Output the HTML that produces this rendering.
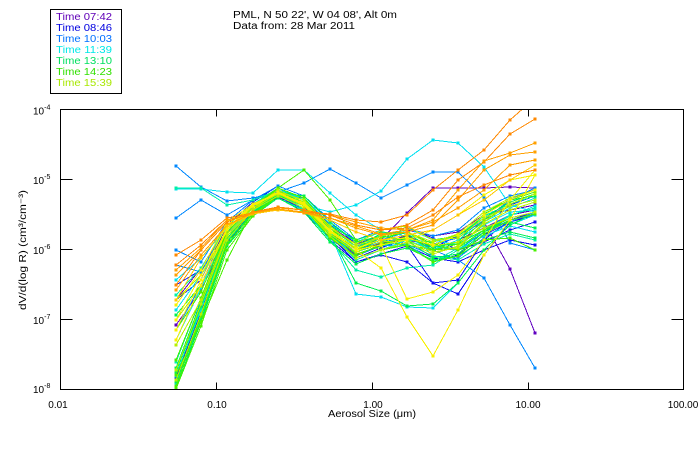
<!DOCTYPE html>
<html>
<head>
<meta charset="utf-8">
<style>
html,body{margin:0;padding:0;background:#fff;}
svg{display:block;}
text{font-family:"Liberation Sans",sans-serif;fill:#000;}
.s polyline{fill:none;stroke-width:1;}
.p{stroke:#6000c0;marker:url(#mp);}
.b{stroke:#1010f0;marker:url(#mb);}
.l{stroke:#0088ff;marker:url(#ml);}
.c{stroke:#00e0f0;marker:url(#mc);}
.a{stroke:#00f0a8;marker:url(#ma);}
.g{stroke:#00f050;marker:url(#mg);}
.m{stroke:#48f000;marker:url(#mm);}
.y{stroke:#b8f000;marker:url(#my);}
.e{stroke:#f8f000;marker:url(#me);}
.o{stroke:#ffa000;marker:url(#mo);}
.r{stroke:#ff8800;marker:url(#mr);}
.k{stroke:#ffc800;marker:url(#mk);}
</style>
</head>
<body>
<svg width="700" height="450" viewBox="0 0 700 450" xmlns="http://www.w3.org/2000/svg">
<defs>
<clipPath id="cp"><rect x="60.5" y="109.5" width="623" height="280"/></clipPath>
<marker id="mp" markerWidth="3" markerHeight="3" refX="1.5" refY="1.5" markerUnits="userSpaceOnUse"><rect width="3" height="3" fill="#6000c0"/></marker>
<marker id="mb" markerWidth="3" markerHeight="3" refX="1.5" refY="1.5" markerUnits="userSpaceOnUse"><rect width="3" height="3" fill="#1010f0"/></marker>
<marker id="ml" markerWidth="3" markerHeight="3" refX="1.5" refY="1.5" markerUnits="userSpaceOnUse"><rect width="3" height="3" fill="#0088ff"/></marker>
<marker id="mc" markerWidth="3" markerHeight="3" refX="1.5" refY="1.5" markerUnits="userSpaceOnUse"><rect width="3" height="3" fill="#00e0f0"/></marker>
<marker id="ma" markerWidth="3" markerHeight="3" refX="1.5" refY="1.5" markerUnits="userSpaceOnUse"><rect width="3" height="3" fill="#00f0a8"/></marker>
<marker id="mg" markerWidth="3" markerHeight="3" refX="1.5" refY="1.5" markerUnits="userSpaceOnUse"><rect width="3" height="3" fill="#00f050"/></marker>
<marker id="mm" markerWidth="3" markerHeight="3" refX="1.5" refY="1.5" markerUnits="userSpaceOnUse"><rect width="3" height="3" fill="#48f000"/></marker>
<marker id="my" markerWidth="3" markerHeight="3" refX="1.5" refY="1.5" markerUnits="userSpaceOnUse"><rect width="3" height="3" fill="#b8f000"/></marker>
<marker id="me" markerWidth="3" markerHeight="3" refX="1.5" refY="1.5" markerUnits="userSpaceOnUse"><rect width="3" height="3" fill="#f8f000"/></marker>
<marker id="mo" markerWidth="3" markerHeight="3" refX="1.5" refY="1.5" markerUnits="userSpaceOnUse"><rect width="3" height="3" fill="#ffa000"/></marker>
<marker id="mr" markerWidth="3" markerHeight="3" refX="1.5" refY="1.5" markerUnits="userSpaceOnUse"><rect width="3" height="3" fill="#ff8800"/></marker>
<marker id="mk" markerWidth="3" markerHeight="3" refX="1.5" refY="1.5" markerUnits="userSpaceOnUse"><rect width="3" height="3" fill="#ffc800"/></marker>
</defs>
<rect width="700" height="450" fill="#fff"/>

<!-- legend -->
<rect x="50.5" y="9.5" width="71" height="84" fill="none" stroke="#000" stroke-width="1" shape-rendering="crispEdges"/>
<g font-size="10">
<text x="56" y="20" style="fill:#6000b8" textLength="56" lengthAdjust="spacingAndGlyphs">Time 07:42</text>
<text x="56" y="31" style="fill:#0000e0" textLength="56" lengthAdjust="spacingAndGlyphs">Time 08:46</text>
<text x="56" y="42" style="fill:#0070ff" textLength="56" lengthAdjust="spacingAndGlyphs">Time 10:03</text>
<text x="56" y="53" style="fill:#00e8e8" textLength="56" lengthAdjust="spacingAndGlyphs">Time 11:39</text>
<text x="56" y="64" style="fill:#00e060" textLength="56" lengthAdjust="spacingAndGlyphs">Time 13:10</text>
<text x="56" y="75" style="fill:#30e000" textLength="56" lengthAdjust="spacingAndGlyphs">Time 14:23</text>
<text x="56" y="86" style="fill:#a8e800" textLength="56" lengthAdjust="spacingAndGlyphs">Time 15:39</text>
</g>

<!-- title -->
<text x="233" y="18" font-size="10" textLength="164" lengthAdjust="spacingAndGlyphs">PML, N 50 22', W 04 08', Alt 0m</text>
<text x="233" y="29" font-size="10" textLength="122" lengthAdjust="spacingAndGlyphs">Data from: 28 Mar 2011</text>

<!-- data -->
<g class="s" clip-path="url(#cp)" shape-rendering="crispEdges">
<polyline class="p" points="176,330 201,285 227,230 253,205 278,190 304,205 330,235 356,255 381,245 407,235 433,250 458,240 484,228 510,215 535,210"/>
<polyline class="p" points="176,300 201,268 227,228 253,205 278,193 304,205 330,232 356,250 381,240 407,213 433,188 458,188 484,188 510,187 535,188"/>
<polyline class="p" points="176,340 201,288 227,230 253,206 278,192 304,203 330,233 356,252 381,243 407,240 433,245 458,235 484,222 510,269 535,333"/>
<polyline class="p" points="176,325 201,290 227,238 253,210 278,192 304,198 330,226 356,244 381,236 407,230 433,236 458,232 484,215 510,210 535,205"/>

<polyline class="b" points="176,340 201,285 227,228 253,205 278,188 304,198 330,225 356,240 381,232 407,245 433,262 458,255 484,235 510,222 535,215"/>
<polyline class="b" points="176,378 201,312 227,240 253,212 278,195 304,205 330,235 356,258 381,250 407,245 433,283 458,294 484,255 510,222 535,215"/>
<polyline class="b" points="176,378 201,310 227,242 253,214 278,196 304,210 330,240 356,262 381,255 407,262 433,283 458,280 484,240 510,220 535,212"/>
<polyline class="b" points="176,385 201,318 227,240 253,212 278,197 304,212 330,238 356,258 381,248 407,238 433,248 458,236 484,218 510,205 535,196"/>
<polyline class="b" points="176,300 201,280 227,225 253,202 278,186 304,196 330,222 356,244 381,230 407,228 433,238 458,250 484,242 510,230 535,222"/>
<polyline class="b" points="176,285 201,270 227,236 253,212 278,195 304,206 330,236 356,262 381,254 407,246 433,258 458,262 484,250 510,240 535,245"/>

<polyline class="l" points="176,166 201,187 227,201 253,198 278,192 304,210 330,232 356,252 381,242 407,238 433,248 458,250 484,232 510,220 535,215"/>
<polyline class="l" points="176,218 201,200 227,215 253,200 278,192 304,183 330,169 356,183 381,198 407,185 433,172 458,172 484,197 510,243 535,250"/>
<polyline class="l" points="176,330 201,285 227,230 253,207 278,192 304,203 330,232 356,250 381,242 407,240 433,250 458,260 484,278 510,325 535,368"/>
<polyline class="l" points="176,265 201,272 227,226 253,204 278,190 304,200 330,226 356,246 381,240 407,232 433,244 458,238 484,220 510,200 535,188"/>
<polyline class="l" points="176,372 201,300 227,232 253,212 278,196 304,208 330,236 356,256 381,246 407,244 433,256 458,258 484,238 510,222 535,212"/>
<polyline class="l" points="176,250 201,262 227,222 253,200 278,186 304,196 330,220 356,240 381,230 407,228 433,236 458,230 484,208 510,196 535,190"/>

<polyline class="c" points="176,189 201,189 227,192 253,193 278,170 304,170 330,193 356,215 381,230 407,228 433,240 458,245 484,225 510,212 535,210"/>
<polyline class="c" points="176,340 201,288 227,232 253,208 278,193 304,205 330,212 356,205 381,191 407,159 433,140 458,143 484,167 510,205 535,212"/>
<polyline class="c" points="176,375 201,310 227,238 253,211 278,194 304,204 330,233 356,294 381,297 407,307 433,308 458,283 484,250 510,225 535,215"/>
<polyline class="c" points="176,310 201,275 227,236 253,208 278,190 304,200 330,232 356,258 381,250 407,240 433,250 458,240 484,222 510,208 535,198"/>
<polyline class="c" points="176,385 201,318 227,244 253,214 278,196 304,206 330,232 356,246 381,236 407,232 433,246 458,250 484,236 510,226 535,232"/>
<polyline class="c" points="176,280 201,258 227,228 253,206 278,190 304,198 330,224 356,242 381,232 407,236 433,252 458,248 484,230 510,216 535,206"/>

<polyline class="a" points="176,188 201,188 227,205 253,200 278,190 304,210 330,240 356,270 381,277 407,268 433,265 458,250 484,230 510,215 535,208"/>
<polyline class="a" points="176,362 201,298 227,230 253,204 278,188 304,200 330,230 356,254 381,246 407,240 433,242 458,236 484,216 510,204 535,196"/>
<polyline class="a" points="176,376 201,308 227,240 253,214 278,198 304,210 330,238 356,248 381,236 407,230 433,256 458,260 484,244 510,234 535,240"/>
<polyline class="a" points="176,295 201,268 227,226 253,204 278,190 304,202 330,234 356,260 381,250 407,244 433,262 458,248 484,224 510,210 535,202"/>

<polyline class="g" points="176,389 201,320 227,245 253,213 278,195 304,206 330,234 356,283 381,291 407,306 433,304 458,283 484,250 510,225 535,213"/>
<polyline class="g" points="176,382 201,316 227,242 253,212 278,194 304,206 330,228 356,246 381,234 407,232 433,246 458,244 484,230 510,222 535,228"/>
<polyline class="g" points="176,368 201,302 227,234 253,208 278,192 304,196 330,222 356,242 381,236 407,240 433,258 458,254 484,232 510,218 535,212"/>
<polyline class="g" points="176,388 201,322 227,246 253,216 278,198 304,212 330,242 356,264 381,254 407,248 433,260 458,256 484,240 510,232 535,238"/>
<polyline class="g" points="176,315 201,285 227,230 253,206 278,190 304,204 330,236 356,252 381,244 407,226 433,240 458,236 484,218 510,202 535,194"/>
<polyline class="g" points="176,372 201,306 227,238 253,210 278,194 304,202 330,226 356,240 381,232 407,234 433,248 458,242 484,214 510,200 535,196"/>

<polyline class="m" points="176,375 201,322 227,260 253,210 278,188 304,170 330,200 356,240 381,250 407,245 433,250 458,248 484,230 510,218 535,212"/>
<polyline class="m" points="176,386 201,316 227,244 253,214 278,196 304,208 330,238 356,256 381,244 407,238 433,246 458,234 484,212 510,200 535,192"/>
<polyline class="m" points="176,360 201,298 227,232 253,206 278,188 304,198 330,228 356,250 381,240 407,246 433,262 458,256 484,234 510,220 535,214"/>
<polyline class="m" points="176,389 201,326 227,250 253,216 278,196 304,208 330,234 356,248 381,238 407,232 433,244 458,250 484,240 510,238 535,250"/>
<polyline class="m" points="176,330 201,292 227,230 253,206 278,192 304,206 330,234 356,254 381,246 407,236 433,250 458,244 484,220 510,206 535,200"/>

<polyline class="y" points="176,370 201,304 227,236 253,210 278,196 304,208 330,236 356,258 381,250 407,242 433,254 458,246 484,224 510,210 535,202"/>
<polyline class="y" points="176,380 201,314 227,240 253,210 278,192 304,200 330,226 356,246 381,236 407,232 433,246 458,242 484,228 510,218 535,212"/>
<polyline class="y" points="176,345 201,300 227,234 253,208 278,190 304,202 330,228 356,244 381,230 407,226 433,240 458,238 484,218 510,206 535,200"/>
<polyline class="y" points="176,300 201,275 227,230 253,208 278,194 304,206 330,234 356,252 381,242 407,240 433,252 458,248 484,222 510,204 535,194"/>
<polyline class="y" points="176,320 201,286 227,228 253,206 278,192 304,204 330,232 356,250 381,236 407,232 433,242 458,234 484,212 510,198 535,190"/>

<polyline class="e" points="176,340 201,285 227,230 253,206 278,193 304,205 330,232 356,250 381,268 407,317 433,356 458,310 484,255 510,220 535,175"/>
<polyline class="e" points="176,330 201,280 227,228 253,205 278,192 304,204 330,231 356,250 381,245 407,299 433,292 458,275 484,240 510,200 535,170"/>
<polyline class="e" points="176,320 201,275 227,225 253,205 278,193 304,203 330,230 356,248 381,240 407,238 433,245 458,235 484,215 510,200 535,190"/>
<polyline class="e" points="176,305 201,270 227,222 253,204 278,193 304,205 330,232 356,250 381,245 407,240 433,230 458,215 484,195 510,180 535,175"/>

<polyline class="r" points="176,255 201,240 227,218 253,213 278,210 304,212 330,215 356,225 381,230 407,225 433,210 458,180 484,162 510,134 535,119"/>
<polyline class="r" points="176,265 201,245 227,220 253,214 278,210 304,212 330,214 356,220 381,222 407,215 433,190 458,170 484,150 510,120 535,98"/>
<polyline class="o" points="176,275 201,250 227,222 253,212 278,208 304,210 330,215 356,222 381,228 407,230 433,220 458,190 484,161 510,153 535,143"/>
<polyline class="o" points="176,290 201,255 227,225 253,213 278,209 304,212 330,218 356,228 381,235 407,232 433,225 458,200 484,170 510,155 535,152"/>
<polyline class="k" points="176,300 201,258 227,226 253,214 278,210 304,213 330,220 356,232 381,240 407,235 433,230 458,215 484,200 510,180 535,165"/>
<polyline class="r" points="176,285 201,250 227,222 253,212 278,207 304,210 330,215 356,225 381,230 407,228 433,215 458,197 484,185 510,175 535,170"/>
<polyline class="o" points="176,270 201,248 227,220 253,213 278,209 304,213 330,218 356,226 381,234 407,230 433,222 458,208 484,190 510,165 535,160"/>
</g>

<!-- axes -->
<g stroke="#000" stroke-width="1" fill="none" shape-rendering="crispEdges">
<rect x="60.5" y="109.5" width="623" height="280"/>
<path d="M60.5 179.5H72.5M60.5 249.5H72.5M60.5 319.5H72.5"/>
<path d="M671.5 179.5H683.5M671.5 249.5H683.5M671.5 319.5H683.5"/>
<path d="M216.5 389.5V382.5M372.5 389.5V382.5M528.5 389.5V382.5"/>
<path d="M216.5 109.5V116.5M372.5 109.5V116.5M528.5 109.5V116.5"/>
</g>

<!-- y tick labels -->
<g font-size="10">
<text x="33" y="114.5">10<tspan font-size="7" dy="-5">-4</tspan></text>
<text x="33" y="184">10<tspan font-size="7" dy="-5">-5</tspan></text>
<text x="33" y="254">10<tspan font-size="7" dy="-5">-6</tspan></text>
<text x="33" y="324">10<tspan font-size="7" dy="-5">-7</tspan></text>
<text x="33" y="393">10<tspan font-size="7" dy="-5">-8</tspan></text>
</g>

<!-- x tick labels -->
<g font-size="10" text-anchor="middle">
<text x="58" y="408">0.01</text>
<text x="217" y="408">0.10</text>
<text x="373" y="408">1.00</text>
<text x="528" y="408">10.00</text>
<text x="683" y="408">100.00</text>
</g>
<text x="372" y="417" font-size="10" text-anchor="middle" textLength="88" lengthAdjust="spacingAndGlyphs">Aerosol Size (μm)</text>

<!-- y axis title -->
<text transform="translate(26,250) rotate(-90)" font-size="10" text-anchor="middle" textLength="120" lengthAdjust="spacingAndGlyphs">dV/d(log R)  (cm³/cm⁻³)</text>
</svg>
</body>
</html>
